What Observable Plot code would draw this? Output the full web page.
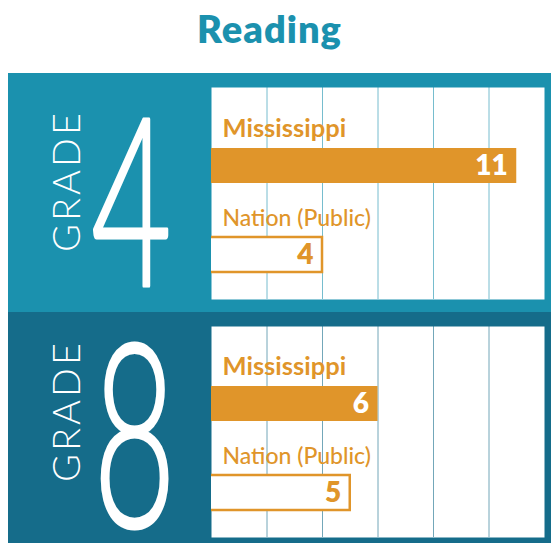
<!DOCTYPE html>
<html><head><meta charset="utf-8">
<script src="https://cdn.jsdelivr.net/npm/d3@7"></script>
<script src="https://cdn.jsdelivr.net/npm/@observablehq/plot@0.6"></script>
<style>
html,body{margin:0;padding:0;overflow:hidden;background:#fff;width:551px;height:543px;}
#title{position:absolute;left:0;top:6px;width:539px;text-align:center;font-family:Lato,sans-serif;font-weight:800;font-size:38px;letter-spacing:1px;line-height:1.2;color:#1b91ae;}
#panels{position:absolute;left:8px;top:73px;}
#panels svg{display:block;}
</style></head><body>
<div id="title"></div>
<div id="panels"></div>
<script>
// ---- data ----
const chartTitle = "Reading";
const gradeWord = "GRADE";
const grades = ["4", "8"];
const categories = ["Mississippi", "Nation (Public)"];
const grade4Values = [11, 4];
const grade8Values = [6, 5];
const gridTicks = [2, 4, 6, 8, 10];
const xDomain = [0, 12];

// ---- styles ----
const orange = "#e0952a";
const panelConfigs = [
  {bg: "#1b91ae", height: 239, marginBottom: 13, gradeDy: -12.5, digitSize: 236, digitScale: 0.59, digitDx: -80, digitDy: -14},
  {bg: "#156c8a", height: 231, marginBottom: 6, gradeDy: -21, digitSize: 256, digitScale: 0.56, digitDx: -77, digitDy: -11}
];
const valuesByGrade = [grade4Values, grade8Values];

document.getElementById("title").textContent = chartTitle;
const container = document.getElementById("panels");

grades.forEach((grade, gi) => {
  const cfg = panelConfigs[gi];
  const rows = categories.map((c, i) => ({category: c, value: valuesByGrade[gi][i]}));
  const state = rows.filter(d => d.category === categories[0]);
  const nation = rows.filter(d => d.category === categories[1]);
  const chart = Plot.plot({
    width: 543,
    height: cfg.height,
    marginLeft: 203,
    marginRight: 7,
    marginTop: 14,
    marginBottom: cfg.marginBottom,
    style: {background: cfg.bg, fontFamily: "Lato, sans-serif", overflow: "hidden"},
    x: {domain: xDomain, axis: null},
    y: {domain: categories, axis: null, paddingInner: 0.609, paddingOuter: 0.489, align: 0.69},
    marks: [
      Plot.frame({fill: "white"}),
      Plot.ruleX(gridTicks, {stroke: cfg.bg, strokeOpacity: 0.6, strokeWidth: 1}),
      Plot.barX(state, {x: "value", y: "category", fill: orange}),
      Plot.barX(nation, {x: "value", y: "category", fill: "white", stroke: orange, strokeWidth: 2.5, insetLeft: -4, clip: true}),
      Plot.text(state, {y: "category", text: "category", frameAnchor: "left", textAnchor: "start", lineAnchor: "bottom", dx: 11, dy: -29.5, fill: orange, fontSize: 25.5, fontWeight: 700}),
      Plot.text(nation, {y: "category", text: "category", frameAnchor: "left", textAnchor: "start", lineAnchor: "bottom", dx: 11, dy: -29.5, fill: orange, fontSize: 23, fontWeight: 500}),
      Plot.text(state, {x: "value", y: "category", text: d => String(d.value), textAnchor: "end", lineAnchor: "middle", dx: -9, fill: "white", fontSize: 28, fontWeight: 800}),
      Plot.text(nation, {x: "value", y: "category", text: d => String(d.value), textAnchor: "end", lineAnchor: "middle", dx: -9, fill: orange, fontSize: 28, fontWeight: 800}),
      Plot.text([gradeWord], {text: d => d, frameAnchor: "left", textAnchor: "middle", lineAnchor: "middle", rotate: -90, dx: -144, dy: cfg.gradeDy, fill: "white", fontSize: 38, fontWeight: 300}),
      Plot.text([grade], {text: d => d, frameAnchor: "bottom-left", textAnchor: "middle", lineAnchor: "bottom", dx: cfg.digitDx, dy: cfg.digitDy, fill: "white", stroke: "white", strokeWidth: 2.5, fontSize: cfg.digitSize, fontWeight: 300})
    ]
  });
  container.appendChild(chart);
  // condense the big grade digit and letter-space the GRADE word
  d3.select(chart).selectAll("text").each(function () {
    const fs = parseFloat(getComputedStyle(this).fontSize);
    const t = d3.select(this);
    if (fs > 100) {
      const x = +t.attr("x") || 0, y = +t.attr("y") || 0;
      const tr = t.attr("transform") || "";
      t.attr("x", null).attr("y", null)
       .attr("transform", `${tr} translate(${x},${y}) scale(${cfg.digitScale},1)`)
       .style("vector-effect", "non-scaling-stroke");
    } else if (this.textContent === gradeWord) {
      t.style("letter-spacing", "3px");
    }
  });
});
</script>
</body></html>
